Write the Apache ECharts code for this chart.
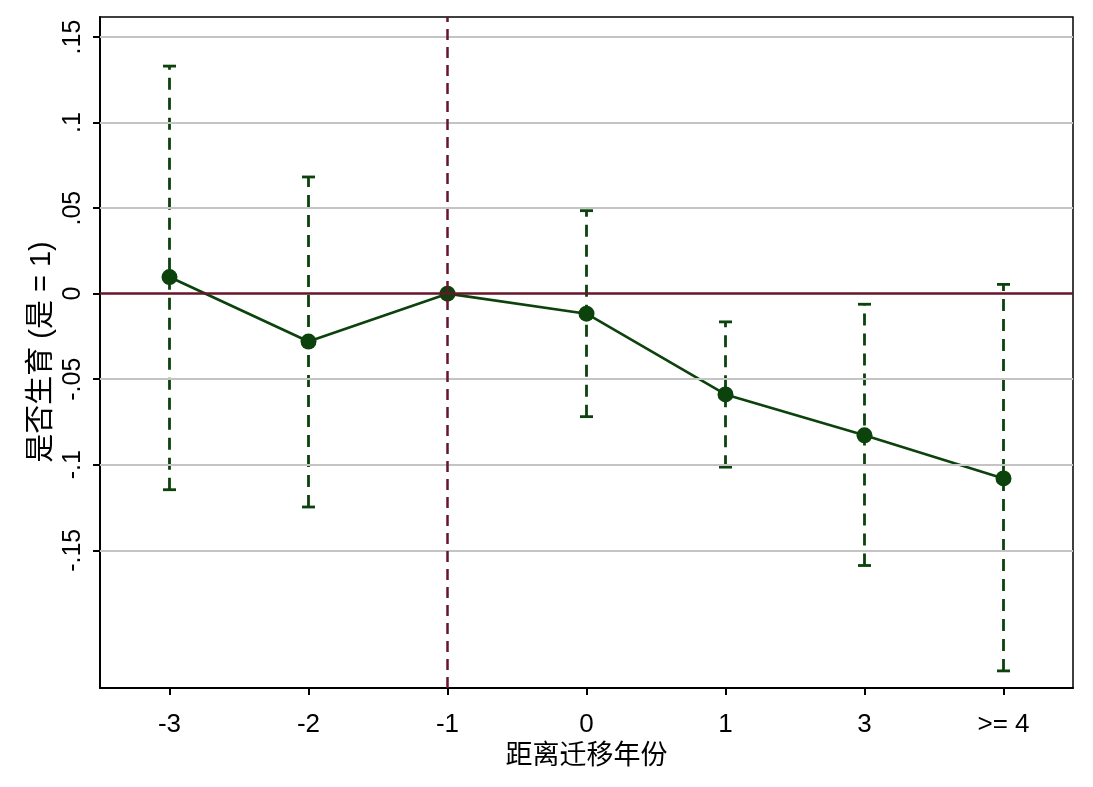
<!DOCTYPE html>
<html>
<head>
<meta charset="utf-8">
<script src="https://cdn.jsdelivr.net/npm/echarts@6/dist/echarts.min.js"></script>
<style>html,body{margin:0;padding:0;background:#fff}#c{width:1093px;height:787px}</style>
</head>
<body>
<div id="c"></div>
<script>
const categories = ['-3', '-2', '-1', '0', '1', '3', '>= 4'];
const estimates = [0.0097, -0.028, 0, -0.0117, -0.0589, -0.0828, -0.108];
const ciLower = [-0.1146, -0.1247, null, -0.0719, -0.1014, -0.1589, -0.2205];
const ciUpper = [0.1330, 0.0682, null, 0.0485, -0.0165, -0.0062, 0.0054];
const yTicks = [-0.15, -0.1, -0.05, 0, 0.05, 0.1, 0.15];
const yTickLabels = ['-.15', '-.1', '-.05', '0', '.05', '.1', '.15'];
const gridValues = [-0.15, -0.1, -0.05, 0.05, 0.1, 0.15];
const refCategory = '-1';
const xTitle = '距离迁移年份';
const yTitle = '是否生育 (是 = 1)';
const yMin = -0.2305, yMax = 0.1617;

const green = '#0c420c';
const maroon = '#66162a';
const numFont = '"Liberation Sans", Arial, sans-serif';
const cjkFont = '"Liberation Sans", "Noto Sans CJK SC", sans-serif';

const chart = echarts.init(document.getElementById('c'), null, {renderer: 'canvas'});

const ciData = categories.map((c, i) => ciLower[i] == null ? null : [i, ciLower[i], ciUpper[i]]).filter(d => d);

chart.setOption({
  animation: false,
  backgroundColor: '#fff',
  grid: {left: 100, right: 20, top: 17, bottom: 99, show: true, borderColor: '#000', borderWidth: 1.5, containLabel: false},
  graphic: [{
    type: 'text',
    x: 42, y: 352,
    rotation: Math.PI / 2,
    style: {text: yTitle, fontFamily: cjkFont, fontSize: 29, fill: '#000', align: 'center', verticalAlign: 'middle'}
  }],
  xAxis: {
    type: 'category',
    data: categories,
    boundaryGap: true,
    name: xTitle,
    nameLocation: 'middle',
    nameGap: 55,
    nameTextStyle: {fontFamily: cjkFont, fontSize: 27, color: '#000'},
    axisLine: {show: true, onZero: false, lineStyle: {color: '#000', width: 2}},
    axisTick: {show: true, alignWithLabel: true, length: 7, lineStyle: {color: '#000', width: 2}},
    axisLabel: {fontFamily: numFont, fontSize: 26, color: '#000', margin: 24},
    splitLine: {show: false}
  },
  yAxis: {
    type: 'value',
    min: yMin,
    max: yMax,
    axisLine: {show: true, lineStyle: {color: '#000', width: 2}},
    axisTick: {show: true, length: 7, customValues: yTicks, lineStyle: {color: '#000', width: 2}},
    axisLabel: {
      fontFamily: numFont, fontSize: 25, color: '#000', rotate: 90, margin: 14,
      customValues: yTicks,
      formatter: v => {
        let best = 0;
        yTicks.forEach((t, i) => { if (Math.abs(t - v) < Math.abs(yTicks[best] - v)) best = i; });
        return yTickLabels[best];
      }
    },
    splitLine: {show: false}
  },
  series: [
    {
      type: 'line',
      data: [],
      silent: true,
      markLine: {
        symbol: 'none',
        silent: true,
        label: {show: false},
        lineStyle: {color: '#c4c4c4', width: 2, type: 'solid'},
        data: gridValues.map(v => ({yAxis: v}))
      }
    },
    {
      type: 'line',
      data: [],
      silent: true,
      markLine: {
        symbol: 'none',
        silent: true,
        label: {show: false},
        data: [
          {yAxis: 0, lineStyle: {color: maroon, width: 2.5, type: 'solid'}},
          {xAxis: refCategory, lineStyle: {color: maroon, width: 2.5, type: [11, 7]}}
        ]
      }
    },
    {
      type: 'custom',
      data: ciData,
      z: 3,
      renderItem: (params, api) => {
        const x = api.value(0);
        const lo = api.coord([x, api.value(1)]);
        const hi = api.coord([x, api.value(2)]);
        const cap = 6.5;
        const st = {stroke: green, lineWidth: 2.8};
        return {
          type: 'group',
          children: [
            {type: 'line', shape: {x1: lo[0], y1: lo[1], x2: hi[0], y2: hi[1]}, style: Object.assign({lineDash: [12, 8]}, st)},
            {type: 'line', shape: {x1: lo[0] - cap, y1: lo[1], x2: lo[0] + cap, y2: lo[1]}, style: st},
            {type: 'line', shape: {x1: hi[0] - cap, y1: hi[1], x2: hi[0] + cap, y2: hi[1]}, style: st}
          ]
        };
      }
    },
    {
      type: 'line',
      data: estimates,
      z: 4,
      symbol: 'circle',
      symbolSize: 16,
      itemStyle: {color: green},
      lineStyle: {color: green, width: 2.6}
    }
  ]
});
</script>
</body>
</html>
